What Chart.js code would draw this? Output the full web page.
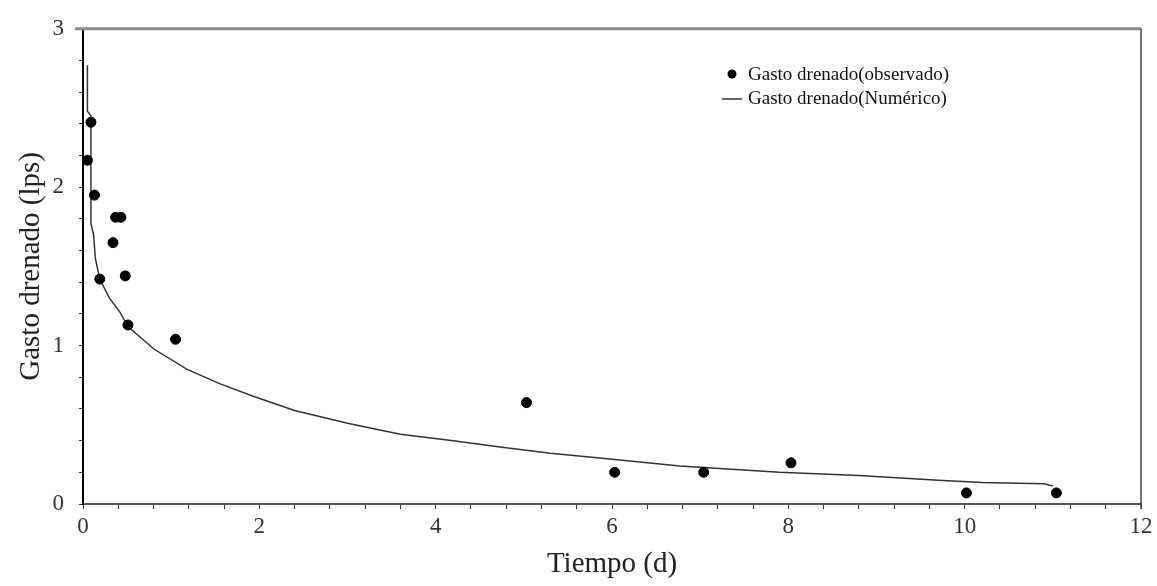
<!DOCTYPE html>
<html>
<head>
<meta charset="utf-8">
<script src="https://cdn.jsdelivr.net/npm/chart.js@4"></script>
<style>
  body { margin: 0; background: #fff; }
</style>
</head>
<body>
<canvas id="myChart" width="1157" height="586"></canvas>
<script>
// observed discharge
const obsX = [0.05, 0.09, 0.13, 0.19, 0.34, 0.37, 0.43, 0.48, 0.51, 1.05, 5.03, 6.03, 7.04, 8.03, 10.02, 11.04];
const obsY = [2.17, 2.41, 1.95, 1.42, 1.65, 1.81, 1.81, 1.44, 1.13, 1.04, 0.64, 0.20, 0.20, 0.26, 0.07, 0.07];

// numerical curve
const numX = [0.05, 0.05, 0.09, 0.09, 0.12, 0.14, 0.19, 0.30, 0.42, 0.51, 0.80, 1.18, 1.55, 1.93, 2.40, 3.00, 3.60, 4.20, 4.73, 5.30, 5.86, 6.77, 7.90, 8.80, 9.70, 10.20, 10.90, 11.00];
const numY = [2.77, 2.48, 2.45, 1.77, 1.70, 1.55, 1.42, 1.30, 1.21, 1.12, 0.98, 0.85, 0.76, 0.68, 0.59, 0.51, 0.44, 0.40, 0.36, 0.32, 0.29, 0.24, 0.20, 0.18, 0.15, 0.135, 0.128, 0.114];

const legendLabels = ['Gasto drenado(observado)', 'Gasto drenado(Numérico)'];
const xTitle = 'Tiempo (d)';
const yTitle = 'Gasto drenado (lps)';

const serif = '"Liberation Serif", "Times New Roman", serif';

const frame = {
  id: 'frame',
  afterDraw(chart) {
    const c = chart.ctx, a = chart.chartArea;
    c.save();
    // top and right border of the plot box
    c.strokeStyle = '#8a8a8a';
    c.lineWidth = 3;
    c.beginPath();
    c.moveTo(a.left - 8, a.top);
    c.lineTo(a.right, a.top);
    c.stroke();
    c.strokeStyle = '#444';
    c.lineWidth = 1.5;
    c.beginPath();
    c.moveTo(a.right, a.top);
    c.lineTo(a.right, a.bottom + 5);
    c.stroke();

    // legend inside the plot
    c.fillStyle = '#000';
    c.beginPath();
    c.arc(732, 74, 4.5, 0, Math.PI * 2);
    c.fill();
    c.strokeStyle = '#333';
    c.lineWidth = 1.5;
    c.beginPath();
    c.moveTo(722, 99);
    c.lineTo(742, 99);
    c.stroke();
    c.font = '19px ' + serif;
    c.textBaseline = 'middle';
    c.fillStyle = '#111';
    c.fillText(legendLabels[0], 748, 75);
    c.fillText(legendLabels[1], 748, 99);
    c.restore();
  }
};

const ctx = document.getElementById('myChart');

new Chart(ctx, {
  type: 'scatter',
  data: {
    datasets: [{
      label: legendLabels[0],
      data: obsX.map((x, i) => ({ x: x, y: obsY[i] })),
      backgroundColor: '#000',
      borderColor: '#000',
      pointRadius: 5,
      pointHoverRadius: 5
    }, {
      label: legendLabels[1],
      type: 'line',
      data: numX.map((x, i) => ({ x: x, y: numY[i] })),
      borderColor: '#333',
      borderWidth: 1.5,
      pointRadius: 0,
      tension: 0,
      fill: false
    }]
  },
  options: {
    responsive: false,
    animation: false,
    layout: { padding: { left: 10, top: 22, right: 16, bottom: 0 } },
    plugins: {
      legend: { display: false },
      tooltip: { enabled: false }
    },
    scales: {
      x: {
        type: 'linear',
        min: 0,
        max: 12,
        afterFit: s => { s.height = 82; },
        border: { display: true, color: '#555', width: 2 },
        grid: { display: true, drawOnChartArea: false, drawTicks: true, tickLength: 5, color: '#333' },
        ticks: {
          stepSize: 0.4,
          autoSkip: false,
          maxRotation: 0,
          padding: 4,
          color: '#333',
          font: { family: serif, size: 23 },
          callback: v => Math.abs(v / 2 - Math.round(v / 2)) < 1e-6 ? Math.round(v) : ''
        },
        title: {
          display: true,
          text: xTitle,
          color: '#222',
          font: { family: serif, size: 29 }
        }
      },
      y: {
        min: 0,
        max: 3,
        afterFit: s => { s.width = 73; },
        border: { display: true, color: '#000', width: 2 },
        grid: { display: true, drawOnChartArea: false, drawTicks: true, tickLength: 4, color: '#333' },
        ticks: {
          stepSize: 0.2,
          autoSkip: false,
          padding: 15,
          color: '#333',
          font: { family: serif, size: 23 },
          callback: v => Math.abs(v - Math.round(v)) < 1e-6 ? Math.round(v) : ''
        },
        title: {
          display: true,
          text: yTitle,
          color: '#222',
          font: { family: serif, size: 29 }
        }
      }
    }
  },
  plugins: [frame]
});
</script>
</body>
</html>
